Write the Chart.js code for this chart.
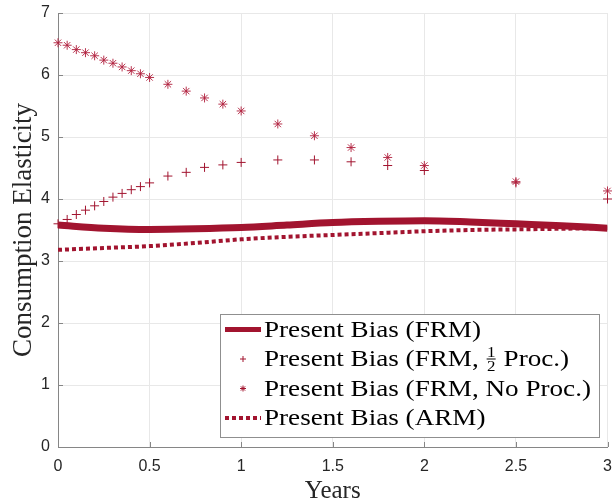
<!DOCTYPE html>
<html><head><meta charset="utf-8">
<script src="https://cdn.jsdelivr.net/npm/chart.js@4/dist/chart.umd.min.js"></script>
<style>html,body{margin:0;padding:0;background:#fff}#wrap{width:613px;height:504px}</style>
</head><body><div id="wrap"><canvas id="c" width="613" height="504"></canvas></div>
<script>
const xTicks=[0,0.5,1,1.5,2,2.5,3];
const yTicks=[0,1,2,3,4,5,6,7];
const lineYears=[0,0.25,0.5,0.75,1,1.25,1.5,1.75,2,2.25,2.5,2.75,3];
const frm=[3.58,3.53,3.51,3.52,3.54,3.58,3.62,3.64,3.65,3.63,3.60,3.57,3.53];
const arm=[3.18,3.21,3.24,3.29,3.35,3.39,3.42,3.45,3.48,3.50,3.51,3.52,3.53];
const markerYears=[0,0.05,0.1,0.15,0.2,0.25,0.3,0.35,0.4,0.45,0.5,0.6,0.7,0.8,0.9,1,1.2,1.4,1.6,1.8,2,2.5,3];
const halfProc=[3.60,3.67,3.75,3.82,3.89,3.96,4.03,4.09,4.15,4.20,4.26,4.37,4.43,4.51,4.55,4.59,4.63,4.63,4.60,4.54,4.46,4.26,4.00];
const noProc=[6.52,6.48,6.41,6.36,6.31,6.24,6.19,6.13,6.07,6.02,5.96,5.85,5.74,5.63,5.53,5.42,5.21,5.02,4.83,4.67,4.54,4.28,4.13];
const seriesLabels=['Present Bias (FRM)','Present Bias (FRM, ½ Proc.)','Present Bias (FRM, No Proc.)','Present Bias (ARM)'];
const xTitle='Years';
const yTitle='Consumption Elasticity';

const RED='#A2142F';
const pts=(xs,ys)=>xs.map((x,i)=>({x:x,y:ys[i]}));

const innerTicks={
  id:'innerTicks',
  afterDatasetsDraw(chart){
    const ctx=chart.ctx, ca=chart.chartArea, xs=chart.scales.x, ys=chart.scales.y;
    ctx.save();ctx.strokeStyle='#868686';ctx.lineWidth=1;ctx.beginPath();
    xs.ticks.forEach(t=>{const p=Math.round(xs.getPixelForValue(t.value))+0.5;ctx.moveTo(p,ca.bottom);ctx.lineTo(p,ca.bottom-5);});
    ys.ticks.forEach(t=>{const p=Math.round(ys.getPixelForValue(t.value))+0.5;ctx.moveTo(ca.left,p);ctx.lineTo(ca.left+5,p);});
    ctx.stroke();ctx.restore();
  }
};

const legendPlugin={
  id:'boxLegend',
  afterDraw(chart){
    const ctx=chart.ctx;
    const box={x:220,y:314,w:379,h:123};
    ctx.save();
    ctx.fillStyle='#fff';
    ctx.fillRect(box.x,box.y,box.w,box.h);
    ctx.strokeStyle='#8f8f8f';ctx.lineWidth=1;
    ctx.strokeRect(box.x+0.5,box.y+0.5,box.w,box.h);
    const rows=[336.5,366,395.5,425];
    const tx=264, sx0=225, sx1=261, mx=243, sx=1.13;
    const font='24px "Liberation Serif"';
    chart.data.datasets.forEach((ds,i)=>{
      const by=rows[i], cy=by-7;
      ctx.save();
      ctx.strokeStyle=RED;ctx.fillStyle=RED;
      if(i===0||i===3){
        ctx.lineWidth=i===0?5:4;
        ctx.setLineDash(i===3?[4,3]:[]);ctx.lineCap='butt';
        ctx.beginPath();ctx.moveTo(sx0,cy);ctx.lineTo(sx1,cy);ctx.stroke();
      }else{
        ctx.lineWidth=1;
        Chart.helpers.drawPoint(ctx,{pointStyle:ds.pointStyle,radius:3,borderWidth:1},mx,cy);
      }
      ctx.restore();
      ctx.save();
      ctx.translate(tx,by);ctx.scale(sx,1);
      ctx.font=font;ctx.fillStyle='#000';ctx.textBaseline='alphabetic';ctx.textAlign='left';
      const lbl=ds.label;
      const k=lbl.indexOf('½');
      if(k<0){ctx.fillText(lbl,0,0);}
      else{
        const a=lbl.slice(0,k), b=lbl.slice(k+1);
        ctx.fillText(a,0,0);
        let x=ctx.measureText(a).width+1;
        ctx.font='15px "Liberation Serif"';ctx.textAlign='center';
        const fw=8, fc=x+fw/2, axis=-7;
        ctx.fillText('1',fc,axis-2);
        ctx.textBaseline='top';ctx.fillText('2',fc,axis+1);
        ctx.fillRect(x,axis-0.5,fw,1);
        ctx.font=font;ctx.textAlign='left';ctx.textBaseline='alphabetic';
        ctx.fillText(b,x+fw+1,0);
      }
      ctx.restore();
    });
    ctx.restore();
  }
};

new Chart(document.getElementById('c'),{
  type:'line',
  data:{datasets:[
    {label:seriesLabels[0],data:pts(lineYears,frm),borderColor:RED,backgroundColor:RED,borderWidth:7,pointRadius:0,cubicInterpolationMode:'monotone',fill:false,order:4},
    {label:seriesLabels[1],data:pts(markerYears,halfProc),showLine:false,pointStyle:'cross',pointRadius:4.5,pointBorderWidth:1,borderColor:RED,backgroundColor:RED,clip:false,order:3},
    {label:seriesLabels[2],data:pts(markerYears,noProc),showLine:false,pointStyle:'star',pointRadius:4.5,pointBorderWidth:1,borderColor:'rgba(176,30,60,0.9)',backgroundColor:RED,clip:false,order:2},
    {label:seriesLabels[3],data:pts(lineYears,arm),borderColor:RED,backgroundColor:RED,borderWidth:4,borderDash:[4,3],pointRadius:0,cubicInterpolationMode:'monotone',fill:false,order:1}
  ]},
  options:{
    responsive:false,animation:false,devicePixelRatio:1,
    layout:{padding:{top:13,right:4,left:0,bottom:0}},
    plugins:{legend:{display:false},tooltip:{enabled:false}},
    scales:{
      x:{type:'linear',min:0,max:3,
        afterBuildTicks:s=>{s.ticks=xTicks.map(v=>({value:v}));},
        afterFit:s=>{s.height=57;s.paddingLeft=0;s.paddingRight=0;},
        ticks:{color:'#262626',font:{family:'"Liberation Sans"',size:16},padding:10,maxRotation:0,callback:v=>String(v)},
        grid:{color:'#e8e8e8',lineWidth:1,drawTicks:false},
        border:{color:'#868686',width:1},
        title:{display:true,text:xTitle,color:'#262626',font:{family:'"Liberation Serif"',size:25,lineHeight:1},padding:{top:0,bottom:0}}
      },
      y:{type:'linear',min:0,max:7,
        afterBuildTicks:s=>{s.ticks=yTicks.map(v=>({value:v}));},
        afterFit:s=>{s.width=58;s.paddingTop=0;s.paddingBottom=0;},
        ticks:{color:'#262626',font:{family:'"Liberation Sans"',size:16},padding:8,callback:v=>String(v)},
        grid:{color:'#e8e8e8',lineWidth:1,drawTicks:false},
        border:{color:'#868686',width:1},
        title:{display:true,text:yTitle,color:'#262626',font:{family:'"Liberation Serif"',size:27,lineHeight:1},padding:{top:10,bottom:0}}
      }
    }
  },
  plugins:[innerTicks,legendPlugin]
});
</script></body></html>
